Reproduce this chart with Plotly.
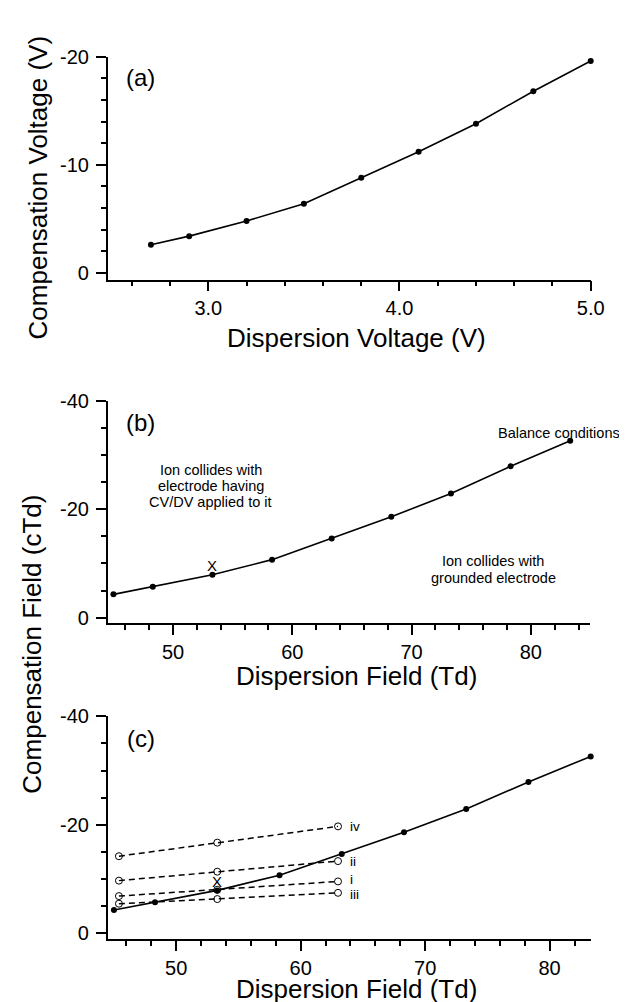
import plotly.graph_objects as go

# ---------------- data ----------------
dispersion_voltage = [2.7, 2.9, 3.2, 3.5, 3.8, 4.1, 4.4, 4.7, 5.0]
compensation_voltage = [-2.6, -3.4, -4.8, -6.4, -8.8, -11.2, -13.8, -16.8, -19.6]

dispersion_field = [45.0, 48.3, 53.3, 58.3, 63.3, 68.3, 73.3, 78.3, 83.3]
compensation_field = [-4.3, -5.7, -7.9, -10.7, -14.6, -18.6, -22.9, -27.9, -32.6]

dashed_x = [45.4, 53.3, 63.0]
dashed_names = ["iv", "ii", "i", "iii"]
dashed_iv = [-14.2, -16.7, -19.7]
dashed_ii = [-9.7, -11.35, -13.3]
dashed_i = [-6.85, -8.0, -9.55]
dashed_iii = [-5.45, -6.3, -7.45]
dashed_series = [dashed_iv, dashed_ii, dashed_i, dashed_iii]
label_shift = [0, 0, 2, -2]

# tick labels
dv_ticks = [3.0, 4.0, 5.0]
dv_ticktext = ["3.0", "4.0", "5.0"]
cv_ticks = [-20, -10, 0]
cv_ticktext = ["-20", "-10", "0"]
df_ticks = [50, 60, 70, 80]
df_ticktext = ["50", "60", "70", "80"]
cf_ticks = [-40, -20, 0]
cf_ticktext = ["-40", "-20", "0"]

W, H = 627, 1002
FONT = "Liberation Sans, Arial, sans-serif"
BLACK = "#000000"

def px_x(p):
    return p / W

def px_y(p):
    return 1 - p / H

fig = go.Figure()

def solid(x, y, xa, ya):
    return go.Scatter(x=x, y=y, mode="lines+markers",
                      line=dict(color=BLACK, width=1.6),
                      marker=dict(color=BLACK, size=6),
                      xaxis=xa, yaxis=ya, showlegend=False, cliponaxis=False)

# panel (a)
fig.add_trace(solid(dispersion_voltage, compensation_voltage, "x", "y"))
# panel (b)
fig.add_trace(solid(dispersion_field, compensation_field, "x2", "y2"))
# panel (c) dashed
for ys in dashed_series:
    fig.add_trace(go.Scatter(x=dashed_x, y=ys, mode="lines+markers",
                             line=dict(color=BLACK, width=1.5, dash="6px,4px"),
                             marker=dict(symbol="circle-open", color=BLACK, size=7,
                                         line=dict(width=1, color=BLACK)),
                             xaxis="x3", yaxis="y3", showlegend=False, cliponaxis=False))
fig.add_trace(solid(dispersion_field, compensation_field, "x3", "y3"))

tickfont = dict(family=FONT, size=20, color=BLACK)

def axis(domain, rng, tickvals, ticktext, minor, anchor, standoff):
    return dict(domain=domain, range=rng, anchor=anchor, showgrid=False, zeroline=False,
                showline=True, linecolor=BLACK, linewidth=1.5,
                ticks="outside", ticklen=10, tickwidth=1.5, tickcolor=BLACK,
                tickmode="array", tickvals=tickvals, ticktext=ticktext,
                tickfont=tickfont, ticklabelstandoff=standoff,
                minor=dict(tickmode="linear", dtick=minor, tick0=0, ticks="outside", ticklen=5,
                           tickwidth=1.5, tickcolor=BLACK, showgrid=False))

xa_dom = [px_x(102), px_x(596)]
fig.update_layout(
    width=W, height=H,
    margin=dict(l=0, r=0, t=0, b=0),
    paper_bgcolor="white", plot_bgcolor="white",
    font=dict(family=FONT, color=BLACK),
    xaxis=axis(xa_dom, [2.474, 5.0], dv_ticks, dv_ticktext, 0.2, "y", 0),
    yaxis=axis([px_y(265), px_y(38.3)], [0.61, -20], cv_ticks, cv_ticktext, 2, "x", 3),
    xaxis2=axis([px_x(102), px_x(594.8)], [44.52, 84.92], df_ticks, df_ticktext, 2, "y2", 0),
    yaxis2=axis([px_y(614.3), px_y(388.3)], [0.96, -40], cf_ticks, cf_ticktext, 5, "x2", 3),
    xaxis3=axis(xa_dom, [44.5, 83.3], df_ticks, df_ticktext, 2, "y3", 0),
    yaxis3=axis([px_y(935.7), px_y(709.3)], [1.03, -40], cf_ticks, cf_ticktext, 5, "x3", 3),
)

ann = []
title_font = dict(family=FONT, size=26, color=BLACK)
ann.append(dict(text="Compensation Voltage (V)", x=px_x(31), y=px_y(171), xref="paper", yref="paper",
                textangle=-90, showarrow=False, font=title_font, xanchor="center", yanchor="middle"))
ann.append(dict(text="Compensation Field (cTd)", x=px_x(25), y=px_y(636), xref="paper", yref="paper",
                textangle=-90, showarrow=False, font=title_font, xanchor="center", yanchor="middle"))
ann.append(dict(text="Dispersion Voltage (V)", x=px_x(356), y=px_y(324), xref="paper", yref="paper",
                showarrow=False, font=title_font, xanchor="center", yanchor="middle"))
ann.append(dict(text="Dispersion Field (Td)", x=px_x(356), y=px_y(668), xref="paper", yref="paper",
                showarrow=False, font=title_font, xanchor="center", yanchor="middle"))
ann.append(dict(text="Dispersion Field (Td)", x=px_x(356), y=px_y(986.5), xref="paper", yref="paper",
                showarrow=False, font=title_font, xanchor="center", yanchor="middle"))

panel_font = dict(family=FONT, size=24, color=BLACK)
for lab, yy in [("(a)", 60), ("(b)", 410), ("(c)", 731.7)]:
    ann.append(dict(text=lab, x=px_x(136), y=px_y(yy), xref="paper", yref="paper",
                    showarrow=False, font=panel_font, xanchor="center", yanchor="middle"))

small = dict(family=FONT, size=14.5, color=BLACK)
for txt, yv in [("Ion collides with", -27.3), ("electrode having", -24.3), ("CV/DV applied to it", -21.4)]:
    ann.append(dict(text=txt, x=53.15, y=yv, xref="x2", yref="y2", showarrow=False,
                    font=small, xanchor="center", yanchor="middle"))
for txt, yv in [("Ion collides with", -10.4), ("grounded electrode", -7.4)]:
    ann.append(dict(text=txt, x=76.85, y=yv, xref="x2", yref="y2", showarrow=False,
                    font=small, xanchor="center", yanchor="middle"))
ann.append(dict(text="Balance conditions", x=82.4, y=-34.1, xref="x2", yref="y2", showarrow=False,
                font=small, xanchor="center", yanchor="middle"))
xfont = dict(family=FONT, size=15, color=BLACK)
ann.append(dict(text="X", x=53.3, y=-9.6, xref="x2", yref="y2", showarrow=False,
                font=xfont, xanchor="center", yanchor="middle"))
ann.append(dict(text="X", x=53.3, y=-9.6, xref="x3", yref="y3", showarrow=False,
                font=xfont, xanchor="center", yanchor="middle"))
roman_font = dict(family=FONT, size=13.5, color=BLACK)
for name, ys, sh in zip(dashed_names, dashed_series, label_shift):
    ann.append(dict(text=name, x=dashed_x[-1], y=ys[-1], xref="x3", yref="y3", showarrow=False,
                    font=roman_font, xanchor="left", yanchor="middle", xshift=10, yshift=sh))

fig.update_layout(annotations=ann)
fig.write_html("out.html")
